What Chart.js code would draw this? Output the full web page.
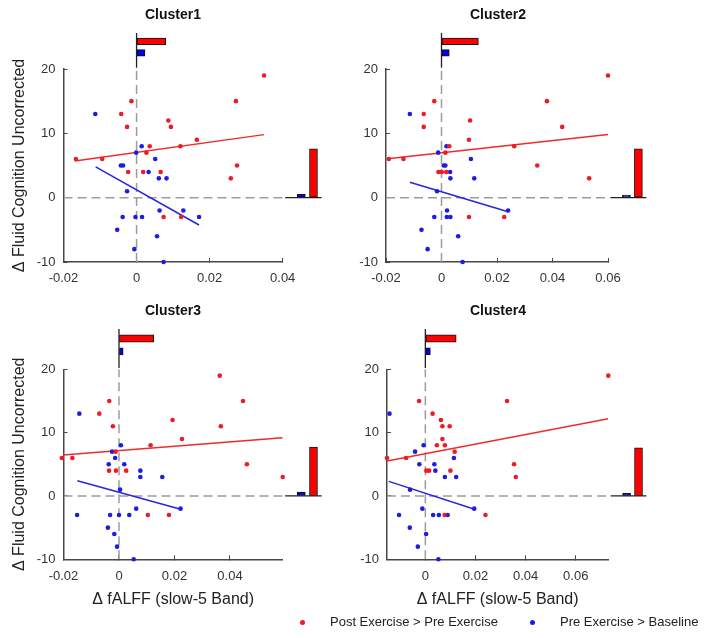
<!DOCTYPE html>
<html>
<head>
<meta charset="utf-8">
<title>fALFF vs Fluid Cognition by cluster</title>
<script src="https://cdn.jsdelivr.net/npm/chart.js@4.4.1/dist/chart.umd.min.js"></script>
<style>
  html, body { margin: 0; padding: 0; background: #fff; }
  #wrap { position: relative; width: 707px; height: 638px; overflow: hidden;
          font-family: 'Liberation Sans', Arial, Helvetica, sans-serif; }
  canvas { position: absolute; }
  #legend { position: absolute; left: 0; top: 612px; width: 707px; height: 20px;
            font-size: 13px; color: #222; }
  #legend .item { position: absolute; top: 0; line-height: 20px; white-space: nowrap; }
  #legend .dot { position: absolute; top: 7.5px; width: 5px; height: 5px; border-radius: 50%; }
</style>
</head>
<body>
<div id="wrap">
  <canvas id="c1"></canvas>
  <canvas id="c2"></canvas>
  <canvas id="c3"></canvas>
  <canvas id="c4"></canvas>
  <div id="legend">
    <span class="dot" style="left:300px;background:#ee1b24"></span>
    <span class="item" style="left:330px">Post Exercise &gt; Pre Exercise</span>
    <span class="dot" style="left:530px;background:#1c1ce6"></span>
    <span class="item" style="left:560px">Pre Exercise &gt; Baseline</span>
  </div>
</div>
<script>
// ---- shared axis values ----
const yLimits = [-10, 20];
const yTicks = [-10, 0, 10, 20];
const histSlots = [2, 1];      // red bar slot, blue bar slot
const histAxis = [0, 3];
const zeroValue = 0;

// ---- Cluster1 ----
const c1XLimits = [-0.02, 0.04];
const c1XTicks = [-0.02, 0, 0.02, 0.04];
const c1RedX = [0.0349, -0.0014, 0.0272, -0.0042, 0.0087, -0.0026, 0.0094, 0.0165, 0.0036, 0.012,
                0.0027, -0.0166, -0.0094, 0.0275, -0.0023, 0.0018, 0.0066, 0.0258, 0.0074, 0.0122];
const c1RedY = [19, 15, 15, 13, 12, 11, 11, 9, 8, 8, 7, 6, 6, 5, 4, 4, 4, 3, -3, -3];
const c1BlueX = [-0.0113, 0.0014, -0.0001, 0.0051, -0.0043, -0.0037, 0.0033, 0.0061, 0.0082, -0.0026,
                 0.0063, 0.0128, -0.0038, -0.0003, 0.0015, 0.0171, -0.0053, 0.0056, -0.0006, 0.0074];
const c1BlueY = [13, 8, 7, 6, 5, 5, 4, 3, 3, 1, -2, -2, -3, -3, -3, -3, -5, -6, -8, -10];
const c1RedFitX = [-0.0169, 0.0349];
const c1RedFitY = [5.7, 9.8];
const c1BlueFitX = [-0.0112, 0.0171];
const c1BlueFitY = [4.8, -4.25];
const c1TopMeans = [0.008, 0.0023];
const c1SideMeans = [7.6, 0.5];

// ---- Cluster2 ----
const c2XLimits = [-0.02, 0.06];
const c2XTicks = [-0.02, 0, 0.02, 0.04, 0.06];
const c2RedX = [0.06, -0.0026, 0.038, -0.0064, 0.0103, -0.0064, 0.0435, 0.0099, 0.0028, 0.0262,
                0.0014, -0.019, -0.0137, 0.0345, -0.0011, 0.0001, 0.0017, 0.0532, 0.0099, 0.0226];
const c2RedY = [19, 15, 15, 13, 12, 11, 11, 9, 8, 8, 7, 6, 6, 5, 4, 4, 4, 3, -3, -3];
const c2BlueX = [-0.0114, 0.0018, -0.0012, 0.0106, 0.0008, 0.0014, 0.0031, 0.0032, 0.0118, -0.0016,
                 0.002, 0.024, -0.0026, 0.0019, 0.0032, -0.0072, 0.006, -0.005, 0.0076];
const c2BlueY = [13, 8, 7, 6, 5, 5, 4, 3, 3, 1, -2, -2, -3, -3, -3, -5, -6, -8, -10];
const c2RedFitX = [-0.0195, 0.06];
const c2RedFitY = [6.05, 9.8];
const c2BlueFitX = [-0.0114, 0.024];
const c2BlueFitY = [2.4, -2.2];
const c2TopMeans = [0.0133, 0.0028];
const c2SideMeans = [7.6, 0.4];

// ---- Cluster3 ----
const c3XLimits = [-0.02, 0.059];
const c3XTicks = [-0.02, 0, 0.02, 0.04];
const c3RedX = [0.0363, -0.0035, 0.0447, -0.0071, 0.0193, -0.0022, 0.0367, 0.0227, 0.0114, -0.0012,
                -0.0206, -0.0168, 0.0461, -0.0036, -0.0011, 0.0026, 0.059, 0.0104, 0.018];
const c3RedY = [19, 15, 15, 13, 12, 11, 11, 9, 8, 7, 6, 6, 5, 4, 4, 4, 3, -3, -3];
const c3BlueX = [-0.0143, 0.0007, -0.0025, -0.0014, -0.0037, 0.0019, 0.0077, 0.0077, 0.0156, 0.0004,
                 0.0062, 0.0222, -0.0151, -0.0032, 0, 0.0037, -0.004, -0.0017, -0.0007, 0.0053];
const c3BlueY = [13, 8, 7, 6, 5, 5, 4, 3, 3, 1, -2, -2, -3, -3, -3, -3, -5, -6, -8, -10];
const c3RedFitX = [-0.0206, 0.059];
const c3RedFitY = [6.45, 9.2];
const c3BlueFitX = [-0.015, 0.0222];
const c3BlueFitY = [2.4, -2.1];
const c3TopMeans = [0.0125, 0.0015];
const c3SideMeans = [7.7, 0.6];

// ---- Cluster4 ----
const c4XLimits = [-0.0153, 0.073];
const c4XTicks = [0, 0.02, 0.04, 0.06];
const c4RedX = [0.073, -0.0025, 0.0326, 0.0029, 0.0062, 0.0068, 0.0097, 0.0068, 0.0046, 0.0078,
                0.0117, -0.0077, -0.0153, 0.0354, 0.0004, 0.0015, 0.01, 0.0361, 0.0077, 0.024];
const c4RedY = [19, 15, 15, 13, 12, 11, 11, 9, 8, 8, 7, 6, 6, 5, 4, 4, 4, 3, -3, -3];
const c4BlueX = [-0.0143, -0.0007, -0.0041, 0.0114, -0.0024, 0.0036, 0.004, 0.0078, 0.0123, -0.0061,
                 -0.0012, 0.0195, -0.0105, 0.0031, 0.0054, 0.0089, -0.0062, 0.0003, -0.003, 0.0052];
const c4BlueY = [13, 8, 7, 6, 5, 5, 4, 3, 3, 1, -2, -2, -3, -3, -3, -3, -5, -6, -8, -10];
const c4RedFitX = [-0.0153, 0.073];
const c4RedFitY = [5.5, 12.2];
const c4BlueFitX = [-0.0146, 0.0196];
const c4BlueFitY = [2.3, -2.1];
const c4TopMeans = [0.0123, 0.002];
const c4SideMeans = [7.6, 0.4];

const yTitle = '\u0394 Fluid Cognition Uncorrected';
const xTitle = '\u0394 fALFF (slow-5 Band)';

// ---- look ----
Chart.defaults.font.family = "'Liberation Sans', Arial, Helvetica, sans-serif";
Chart.defaults.color = '#333';
const AXIS = '#474747';
const RED = '#ee1b24';
const BLUE = '#1c1ce6';
const RED_BAR = '#ff0000';
const BLUE_BAR = '#0000ee';

// canvas boxes and axis sizes (pixels)
const topRow = { top: 0, h: 300, xAxisH: 38, mainH: 193, histH: 37.2 };
const botRow = { top: 296, h: 318, xAxisH: 54.7, mainH: 190, histH: 41.5 };
const leftCol = { left: 0, w: 346, yAxisW: 63.5, mainW: 219.2, sideW: 63.3, sideMax: 5.0 };
const rightColA = { left: 346, w: 304, yAxisW: 40, mainW: 222, sideW: 42, sideMax: 3.3 };
const rightColB = { left: 346, w: 304, yAxisW: 41, mainW: 221.3, sideW: 41.7, sideMax: 3.3 };

const panels = [
  { id: 'c1', title: 'Cluster1', row: topRow, col: leftCol, xLim: c1XLimits, xTicks: c1XTicks,
    redX: c1RedX, redY: c1RedY, blueX: c1BlueX, blueY: c1BlueY,
    redFit: [c1RedFitX, c1RedFitY], blueFit: [c1BlueFitX, c1BlueFitY],
    top: c1TopMeans, side: c1SideMeans, yTitle: true, xTitle: false },
  { id: 'c2', title: 'Cluster2', row: topRow, col: rightColA, xLim: c2XLimits, xTicks: c2XTicks,
    redX: c2RedX, redY: c2RedY, blueX: c2BlueX, blueY: c2BlueY,
    redFit: [c2RedFitX, c2RedFitY], blueFit: [c2BlueFitX, c2BlueFitY],
    top: c2TopMeans, side: c2SideMeans, yTitle: false, xTitle: false },
  { id: 'c3', title: 'Cluster3', row: botRow, col: leftCol, xLim: c3XLimits, xTicks: c3XTicks,
    redX: c3RedX, redY: c3RedY, blueX: c3BlueX, blueY: c3BlueY,
    redFit: [c3RedFitX, c3RedFitY], blueFit: [c3BlueFitX, c3BlueFitY],
    top: c3TopMeans, side: c3SideMeans, yTitle: true, xTitle: true },
  { id: 'c4', title: 'Cluster4', row: botRow, col: rightColB, xLim: c4XLimits, xTicks: c4XTicks,
    redX: c4RedX, redY: c4RedY, blueX: c4BlueX, blueY: c4BlueY,
    redFit: [c4RedFitX, c4RedFitY], blueFit: [c4BlueFitX, c4BlueFitY],
    top: c4TopMeans, side: c4SideMeans, yTitle: false, xTitle: true }
];

const pts = (xs, ys) => xs.map((x, i) => ({ x, y: ys[i] }));

function noPad(s) {
    s.paddingLeft = 0; s.paddingRight = 0; s.paddingTop = 0; s.paddingBottom = 0;
}

function hiddenScale(extra) {
    return Object.assign({
        type: 'linear', display: true, offset: false,
        grid: { display: false, drawTicks: false, offset: false },
        border: { display: false },
        ticks: { display: false },
        afterFit: s => noPad(s)
    }, extra);
}

function buildPanel(p) {
    const row = p.row, col = p.col;
    const canvas = document.getElementById(p.id);
    canvas.width = col.w;
    canvas.height = row.h;
    canvas.style.left = col.left + 'px';
    canvas.style.top = row.top + 'px';
    canvas.style.width = col.w + 'px';
    canvas.style.height = row.h + 'px';

    const datasets = [
        // scatter points
        { type: 'scatter', data: pts(p.redX, p.redY), xAxisID: 'x', yAxisID: 'y',
          backgroundColor: RED, borderWidth: 0, pointRadius: 2.3, clip: false, order: 0 },
        { type: 'scatter', data: pts(p.blueX, p.blueY), xAxisID: 'x', yAxisID: 'y',
          backgroundColor: BLUE, borderWidth: 0, pointRadius: 2.3, clip: false, order: 0 },
        // fitted lines
        { type: 'line', data: pts(p.redFit[0], p.redFit[1]), xAxisID: 'x', yAxisID: 'y',
          borderColor: '#f02a2a', borderWidth: 1.5, pointRadius: 0, order: 1 },
        { type: 'line', data: pts(p.blueFit[0], p.blueFit[1]), xAxisID: 'x', yAxisID: 'y',
          borderColor: '#2626dc', borderWidth: 1.5, pointRadius: 0, order: 1 },
        // dashed zero lines
        { type: 'line', data: pts([zeroValue, zeroValue], yLimits), xAxisID: 'x', yAxisID: 'y',
          borderColor: '#9c9c9c', borderWidth: 1.5, borderDash: [9, 5], pointRadius: 0, order: 5 },
        { type: 'line', data: pts(p.xLim, [zeroValue, zeroValue]), xAxisID: 'x', yAxisID: 'y',
          borderColor: '#9c9c9c', borderWidth: 1.5, borderDash: [9, 5], pointRadius: 0, order: 5 },
        // top marginal bars (mean x)
        { type: 'bar', indexAxis: 'y', xAxisID: 'x', yAxisID: 'yt',
          data: [{ x: p.top[0], y: histSlots[0] }, { x: p.top[1], y: histSlots[1] }],
          backgroundColor: [RED_BAR, BLUE_BAR], borderColor: '#111', borderWidth: 1,
          borderSkipped: false, barThickness: row === topRow ? 6.6 : 7.2, order: 2 },
        { type: 'line', data: pts([zeroValue, zeroValue], histAxis), xAxisID: 'x', yAxisID: 'yt',
          borderColor: '#222', borderWidth: 1.3, pointRadius: 0, order: 3 },
        // side marginal bars (mean y)
        { type: 'bar', xAxisID: 'xr', yAxisID: 'y',
          data: [{ x: histSlots[0], y: p.side[0] }, { x: histSlots[1], y: p.side[1] }],
          backgroundColor: [RED_BAR, BLUE_BAR], borderColor: '#111', borderWidth: 1,
          borderSkipped: false, barThickness: 8, order: 2 },
        { type: 'line', data: pts(histAxis, [zeroValue, zeroValue]), xAxisID: 'xr', yAxisID: 'y',
          borderColor: '#222', borderWidth: 1.3, pointRadius: 0, order: 3 }
    ];

    new Chart(canvas, {
        type: 'scatter',
        data: { datasets },
        options: {
            responsive: false,
            animation: false,
            events: [],
            layout: { padding: 0, autoPadding: false },
            plugins: {
                legend: { display: false },
                tooltip: { enabled: false },
                title: {
                    display: true, text: p.title, color: '#111',
                    font: { size: 14, weight: 'bold' },
                    padding: { top: 7, bottom: 8 }
                }
            },
            scales: {
                x: {
                    type: 'linear', position: 'bottom', stack: 'xs', stackWeight: col.mainW, weight: 0,
                    min: p.xLim[0], max: p.xLim[1], offset: false,
                    afterBuildTicks: s => { s.ticks = p.xTicks.map(v => ({ value: v })); },
                    afterFit: s => { noPad(s); s.height = row.xAxisH; },
                    grid: { display: true, drawOnChartArea: false, drawTicks: true, tickLength: -4,
                            color: AXIS, lineWidth: 1, offset: false },
                    border: { display: true, color: AXIS, width: 1.5 },
                    ticks: { padding: 13, color: '#333', font: { size: 13 }, autoSkip: false,
                             maxRotation: 0, callback: v => String(v) },
                    title: { display: p.xTitle, text: xTitle, color: '#222', font: { size: 16 },
                             padding: { top: 0, bottom: 4.4 } }
                },
                xr: hiddenScale({ position: 'bottom', stack: 'xs', stackWeight: col.sideW, weight: 1,
                                  min: -0.2, max: col.sideMax }),
                y: {
                    type: 'linear', position: 'left', stack: 'ys', stackWeight: row.mainH, weight: 0,
                    min: yLimits[0], max: yLimits[1],
                    afterBuildTicks: s => { s.ticks = yTicks.map(v => ({ value: v })); },
                    afterFit: s => { noPad(s); s.width = col.yAxisW; },
                    grid: { display: true, drawOnChartArea: false, drawTicks: true, tickLength: -4,
                            color: AXIS, lineWidth: 1 },
                    border: { display: true, color: AXIS, width: 1.5 },
                    ticks: { padding: 12, color: '#333', font: { size: 13 }, autoSkip: false,
                             callback: v => String(v) },
                    title: { display: p.yTitle, text: yTitle, color: '#222', font: { size: 16 },
                             padding: { top: 10.4, bottom: 0 } }
                },
                yt: hiddenScale({ position: 'left', stack: 'ys', stackWeight: row.histH, weight: 1,
                                  min: -0.1, max: 3.1 })
            }
        }
    });
}

panels.forEach(buildPanel);
</script>
</body>
</html>
